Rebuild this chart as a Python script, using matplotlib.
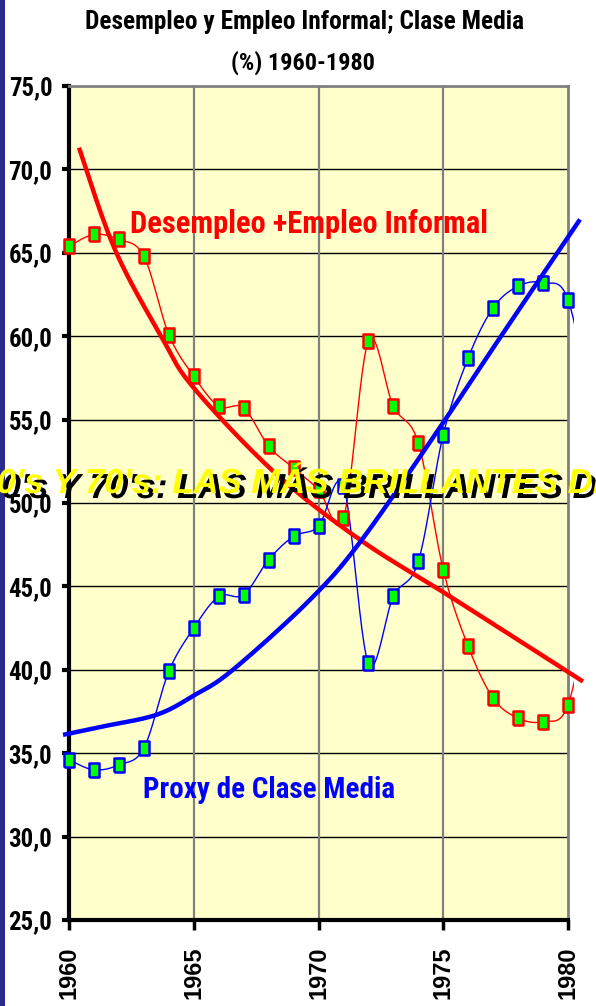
import numpy as np
import matplotlib.pyplot as plt
import matplotlib.patheffects as pe
from matplotlib import font_manager as fm
from matplotlib.patches import Rectangle

# data (1981 only shows as the short tail past 1980)
years = list(range(1960, 1982))
desempleo = [65.4, 66.1, 65.8, 64.8, 60.1, 57.6, 55.8, 55.7, 53.4, 52.1, 50.8,
             49.1, 59.7, 55.8, 53.6, 46.0, 41.4, 38.3, 37.1, 36.9, 37.9, 45.0]
clase_media = [34.6, 34.0, 34.3, 35.3, 39.9, 42.5, 44.4, 44.5, 46.6, 48.0, 48.6,
               51.0, 40.4, 44.4, 46.5, 54.1, 58.7, 61.7, 63.0, 63.2, 62.2, 55.0]

# hand drawn trend curves
trend_red_x = [1960.4, 1961.84, 1963.73, 1965.0, 1968.26, 1971.66, 1975.27, 1980.6]
trend_red_y = [71.3, 65.2, 59.9, 56.9, 51.8, 47.8, 44.4, 39.3]
trend_blue_x = [1959.76, 1961.24, 1963.5, 1965.05, 1966.57, 1969.66, 1971.74, 1974.99, 1977.27, 1980.48]
trend_blue_y = [36.1, 36.57, 37.3, 38.5, 40.0, 44.2, 47.8, 54.8, 59.9, 67.0]

x_ticks = [1960, 1965, 1970, 1975, 1980]
y_ticks = [25, 30, 35, 40, 45, 50, 55, 60, 65, 70, 75]


def narrow_font():
    ents = fm.fontManager.ttflist
    for want in ["Liberation Sans Narrow", "Arial Narrow", "Roboto Condensed",
                 "Open Sans Condensed", "Noto Sans Condensed", "DejaVu Sans Condensed"]:
        if any(e.name == want for e in ents):
            return want, "normal"
    for fam in ["Noto Sans", "DejaVu Sans", "Open Sans", "Roboto"]:
        if any(e.name == fam and str(e.stretch) in ("condensed", "semi-condensed", "extra-condensed")
               for e in ents):
            return fam, "condensed"
    return "Liberation Sans", "normal"


NARROW, STRETCH = narrow_font()
FONT = [NARROW, "Liberation Sans", "DejaVu Sans"]


def smooth(xs, ys, n=24):
    # excel-like bezier smoothing
    p = np.column_stack([xs, ys]).astype(float)
    p = np.vstack([p[0], p, p[-1]])
    t = np.linspace(0, 1, n)[:, None]
    out = []
    for i in range(1, len(p) - 2):
        a, b = p[i], p[i + 1]
        c1 = a + (p[i + 1] - p[i - 1]) / 6
        c2 = b - (p[i + 2] - p[i]) / 6
        seg = (1 - t) ** 3 * a + 3 * (1 - t) ** 2 * t * c1 + 3 * (1 - t) * t ** 2 * c2 + t ** 3 * b
        out.append(seg if i == 1 else seg[1:])
    seg = np.vstack(out)
    return seg[:, 0], seg[:, 1]


def fit_width(txt, width_px, renderer):
    w = txt.get_window_extent(renderer).width
    if w > width_px:
        txt.set_fontsize(txt.get_fontsize() * width_px / w)


fig = plt.figure(figsize=(5.96, 10.06), dpi=100)
fig.patches.append(Rectangle((0, 0), 5 / 596, 1, transform=fig.transFigure,
                             facecolor="#2a2a8a", edgecolor="none"))

ax = fig.add_axes([69 / 596, 1 - 920 / 1006, 499 / 596, 834 / 1006])
ax.set_facecolor("#ffffcc")
ax.set_xlim(1960, 1980)
ax.set_ylim(25, 75)

for v in y_ticks[1:-1]:
    ax.axhline(v, color="black", lw=1, zorder=1)
for v in x_ticks[1:-1]:
    ax.axvline(v, color="#808080", lw=1.6, zorder=1)

marker = [(-0.75, -1), (0.75, -1), (0.75, 1), (-0.75, 1), (-0.75, -1)]

for vals, col in [(desempleo, "red"), (clase_media, "blue")]:
    sx, sy = smooth(years, vals)
    ln, = ax.plot(sx, sy, color=col, lw=1, zorder=3)
    ln.set_clip_path(Rectangle((1958, 0), 22.25, 100, transform=ax.transData))
    ln.set_clip_on(True)
    ax.plot(years[:21], vals[:21], ls="none", marker=marker, ms=9.5,
            mfc="#00ff00", mec=col, mew=1.8, zorder=4, clip_on=False)

tx, ty = smooth(trend_red_x, trend_red_y)
ax.plot(tx, ty, color="red", lw=3.2, zorder=5, clip_on=False, solid_capstyle="butt")
tx, ty = smooth(trend_blue_x, trend_blue_y)
ax.plot(tx, ty, color="blue", lw=3.2, zorder=5, clip_on=False, solid_capstyle="butt")

red_lbl = ax.text(1962.45, 66.2, "Desempleo +Empleo Informal", color="red", fontsize=22,
                  fontweight="bold", family=FONT, fontstretch=STRETCH, va="baseline", zorder=6)
blue_lbl = ax.text(1962.95, 32.3, "Proxy de Clase Media", color="blue", fontsize=21,
                   fontweight="bold", family=FONT, fontstretch=STRETCH, va="baseline", zorder=6)

for s in ["left", "bottom"]:
    ax.spines[s].set_linewidth(3)
    ax.spines[s].set_color("black")
for s in ["top", "right"]:
    ax.spines[s].set_linewidth(2)
    ax.spines[s].set_color("#808080")

ax.set_yticks(y_ticks)
ylabels = ax.set_yticklabels([f"{v:.1f}".replace(".", ",") for v in y_ticks],
                             fontsize=18, fontweight="bold", family=FONT, fontstretch=STRETCH)
ax.set_xticks(x_ticks)
ax.set_xticklabels([str(v) for v in x_ticks], rotation=90, fontsize=17,
                   fontweight="bold", family=["Liberation Sans", "DejaVu Sans"], va="top")
ax.tick_params(axis="y", direction="out", length=5, width=3, pad=7)
ax.tick_params(axis="x", direction="out", length=7, width=2.5, pad=12)

t1 = fig.text(0.511, 0.978, "Desempleo y Empleo Informal; Clase Media", ha="center", va="center",
              fontsize=18.3, fontweight="bold", family=FONT, fontstretch=STRETCH)
t2 = fig.text(0.508, 0.938, "(%) 1960-1980", ha="center", va="center",
              fontsize=17.5, fontweight="bold", family=FONT, fontstretch=STRETCH)

fig.text(-0.038, 1 - 493 / 1006, "60's Y 70's: LAS MÁS BRILLANTES DÉCADAS",
         color="#ffff00", fontsize=25, fontweight="bold", style="italic",
         family=["Liberation Sans", "DejaVu Sans"], va="baseline", zorder=10,
         path_effects=[pe.SimplePatchShadow(offset=(3.6, -3.6), shadow_rgbFace="black", alpha=1),
                       pe.Normal()])

# keep the narrow texts from growing past the room they take in the chart
r = fig.canvas.get_renderer()
fit_width(t1, 480, r)
fit_width(t2, 150, r)
fit_width(red_lbl, 370, r)
fit_width(blue_lbl, 272, r)
for lab in ylabels:
    fit_width(lab, 44, r)

fig.savefig("out.png", dpi=100)
